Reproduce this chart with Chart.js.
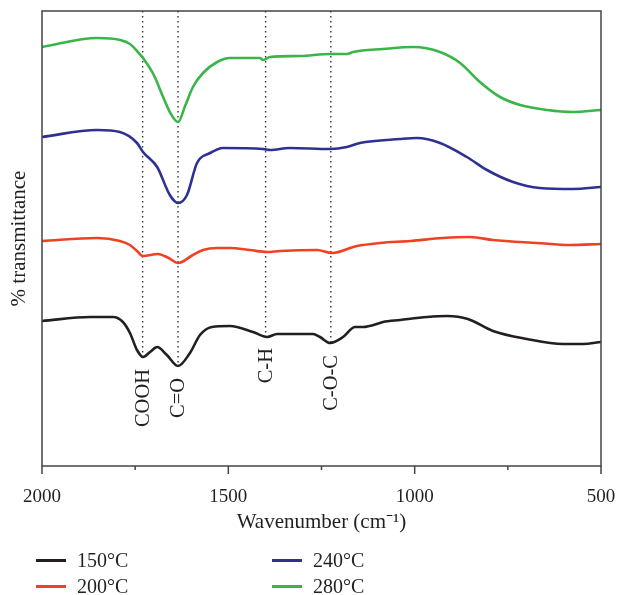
<!DOCTYPE html>
<html>
<head>
<meta charset="utf-8">
<script src="https://cdn.jsdelivr.net/npm/chart.js@4.4.1/dist/chart.umd.min.js"></script>
<style>
    body { margin: 0; background: #fff; }
    #wrap { position: relative; width: 619px; height: 595px; }
    .leg { position: absolute; font: 20px 'Liberation Serif', 'Times New Roman', serif; color: #231f20; display: flex; align-items: center; line-height: 23px; }
    .leg span.sw { display: inline-block; width: 30px; height: 3px; margin-right: 11px; }
</style>
</head>
<body>
<div id="wrap">
    <canvas id="ftir" width="619" height="595"></canvas>
</div>
<script>
// wavenumbers (cm-1) and offset transmittance
const wn150 = [2000, 1871, 1809, 1783, 1764, 1745, 1729, 1710, 1691, 1665, 1635, 1603, 1576, 1544, 1496, 1434, 1396, 1369, 1273, 1254, 1227, 1192, 1160, 1139, 1093, 1085, 1039, 967, 913, 857, 790, 699, 602, 548, 500];
const t150 = [145, 149, 149, 144, 133, 116, 109, 114, 119, 111, 100, 113, 131, 139, 140, 134, 129, 132, 132, 129, 123, 129, 139, 139, 143, 144, 146, 149, 150, 147, 135, 127, 122, 122, 124];

const wn200 = [2000, 1852, 1791, 1764, 1745, 1729, 1689, 1660, 1635, 1595, 1568, 1530, 1496, 1442, 1396, 1361, 1262, 1222, 1155, 1093, 1012, 924, 851, 790, 672, 583, 500];
const t200 = [225, 228, 225, 221, 215, 210, 212, 208, 203, 211, 216, 218, 218, 216, 214, 215, 216, 213, 220, 223, 225, 228, 229, 226, 223, 221, 222];

const wn240 = [2000, 1852, 1791, 1745, 1729, 1691, 1657, 1635, 1611, 1584, 1549, 1514, 1407, 1388, 1335, 1227, 1182, 1147, 1039, 994, 932, 860, 806, 736, 664, 575, 500];
const t240 = [329, 336, 334, 323, 314, 299, 271, 263, 271, 303, 313, 318, 317, 316, 318, 317, 319, 323, 327, 328, 323, 309, 296, 284, 278, 277, 279];

const wn280 = [2000, 1852, 1790, 1764, 1745, 1729, 1700, 1675, 1657, 1635, 1616, 1595, 1568, 1530, 1496, 1450, 1415, 1407, 1388, 1308, 1227, 1182, 1165, 1085, 1004, 932, 878, 825, 771, 717, 645, 575, 500];
const t280 = [419, 428, 426, 422, 415, 408, 391, 369, 354, 344, 360, 379, 393, 404, 408, 408, 408, 406, 409, 410, 412, 412, 414, 417, 419, 414, 403, 384, 369, 361, 356, 354, 356];

// band markers
const markWn = [1730, 1635, 1400, 1225];
const markLabels = ['COOH', 'C=O', 'C-H', 'C-O-C'];
const markEnd = [109, 100, 130, 123];
const yTop = 455;

const xTicks = [2000, 1750, 1500, 1250, 1000, 750, 500];

const serif = "'Liberation Serif', 'Times New Roman', serif";
const ink = '#231f20';

function pts(xs, ys) {
    return xs.map((x, i) => ({ x: x, y: ys[i] }));
}

const series = [
    { label: '150°C', wn: wn150, t: t150, color: '#231f20' },
    { label: '200°C', wn: wn200, t: t200, color: '#ef4123' },
    { label: '240°C', wn: wn240, t: t240, color: '#2e3192' },
    { label: '280°C', wn: wn280, t: t280, color: '#39b54a' }
];

const datasets = series.map(s => ({
    label: s.label,
    data: pts(s.wn, s.t),
    borderColor: s.color,
    borderWidth: 2.6,
    pointRadius: 0,
    cubicInterpolationMode: 'monotone',
    fill: false,
    order: 1
}));

markWn.forEach((w, i) => {
    datasets.push({
        label: 'mark' + i,
        data: [{ x: w, y: yTop }, { x: w, y: markEnd[i] }],
        borderColor: '#333',
        borderWidth: 1.4,
        borderDash: [1.4, 3.6],
        pointRadius: 0,
        fill: false,
        order: 10
    });
});

// frame, tick marks and band labels
const decor = {
    id: 'decor',
    afterDatasetsDraw(chart) {
        const { ctx, chartArea: a, scales } = chart;
        const xs = scales.x, ys = scales.y;
        ctx.save();
        ctx.fillStyle = ink;
        ctx.font = '20.5px ' + serif;
        ctx.textAlign = 'right';
        ctx.textBaseline = 'middle';
        markWn.forEach((w, i) => {
            const px = xs.getPixelForValue(w);
            const py = ys.getPixelForValue(markEnd[i]) + 12;
            ctx.save();
            ctx.translate(px + 1, py);
            ctx.rotate(-Math.PI / 2);
            ctx.fillText(markLabels[i], 0, 0);
            ctx.restore();
        });

        ctx.strokeStyle = '#444';
        ctx.lineWidth = 1.5;
        ctx.strokeRect(a.left, a.top, a.right - a.left, a.bottom - a.top);

        ctx.beginPath();
        xTicks.forEach(v => {
            const px = xs.getPixelForValue(v);
            const len = v % 500 === 0 ? 8 : 4;
            ctx.moveTo(px, a.bottom);
            ctx.lineTo(px, a.bottom + len);
        });
        ctx.stroke();
        ctx.restore();
    }
};

new Chart(document.getElementById('ftir'), {
    type: 'line',
    data: { datasets: datasets },
    options: {
        responsive: false,
        animation: false,
        layout: { padding: { top: 11, right: 18, left: 0, bottom: 57 } },
        plugins: { legend: { display: false }, tooltip: { enabled: false } },
        scales: {
            x: {
                type: 'linear',
                reverse: true,
                min: 500,
                max: 2000,
                afterBuildTicks: s => { s.ticks = xTicks.map(v => ({ value: v })); },
                afterFit: s => { s.height = 72; },
                // tick marks are drawn by the decor plugin; tickLength only spaces the labels
                grid: { display: false, drawTicks: true, tickLength: 20 },
                border: { display: false },
                ticks: {
                    padding: 0,
                    color: ink,
                    font: { family: serif, size: 19 },
                    maxRotation: 0,
                    autoSkip: false,
                    callback: v => (v % 500 === 0 ? String(v) : '')
                },
                title: {
                    display: true,
                    text: 'Wavenumber (cm⁻¹)',
                    color: ink,
                    font: { family: serif, size: 21 },
                    padding: { top: 0, bottom: 3 }
                }
            },
            y: {
                min: 0,
                max: yTop,
                afterFit: s => { s.width = 42; },
                grid: { display: false, drawTicks: false },
                border: { display: false },
                ticks: { display: false },
                title: {
                    display: true,
                    text: '% transmittance',
                    color: ink,
                    font: { family: serif, size: 21 },
                    padding: { top: 7, bottom: 0 }
                }
            }
        }
    },
    plugins: [decor]
});

// legend, two columns like the figure
const legPos = [[36, 549], [36, 575], [272, 549], [272, 575]];
const wrap = document.getElementById('wrap');
series.forEach((s, i) => {
    const d = document.createElement('div');
    d.className = 'leg';
    d.style.left = legPos[i][0] + 'px';
    d.style.top = legPos[i][1] + 'px';
    d.innerHTML = '<span class="sw" style="background:' + s.color + '"></span>' + s.label;
    wrap.appendChild(d);
});
</script>
</body>
</html>
